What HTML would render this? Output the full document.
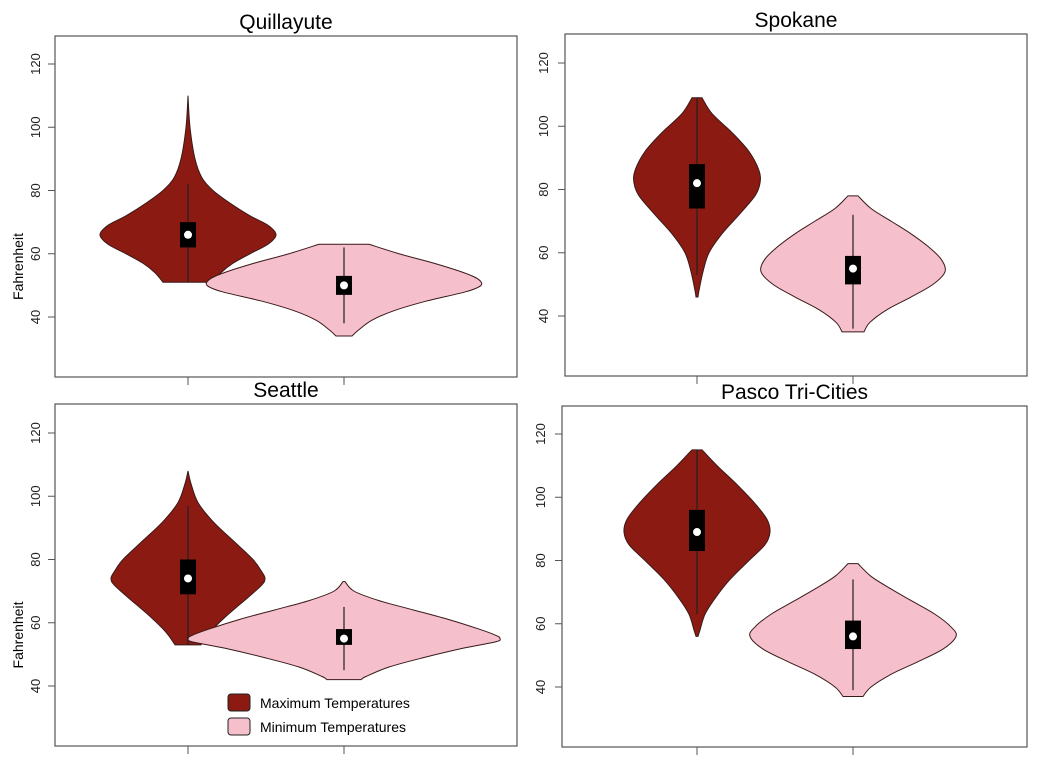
<!DOCTYPE html>
<html><head><meta charset="utf-8"><style>
html,body{margin:0;padding:0;background:#fff;}
svg{display:block;font-family:"Liberation Sans",sans-serif;}
.ttl{font-size:21px;text-anchor:middle;}
.tk{font-size:13px;fill:#222;text-anchor:middle;}
</style></head><body>
<svg id="chart" width="1050" height="770"></svg>
<script>
const panelNames = ["Quillayute","Spokane","Seattle","Pasco Tri-Cities"];
const yTicks = [40,60,80,100,120];
// densities (half-width) at temperature values
const maxTemps = [
 [110,100,90,84,80,76,72,69,66,63,60,57,54,51],
 [109,104,98,92,86,82,78,72,66,60,54,48,46],
 [108,104,98,92,86,80,76,74,72,68,62,57,53],
 [115,110,104,98,93,89,85,80,74,68,63,58,56]];
const maxDens = [
 [0,2,7,14,25,42,62,80,88,80,62,45,33,25],
 [5,15,35,52,62,63,58,42,25,12,6,2,1],
 [0,3,10,25,45,65,74,77,74,60,38,22,13],
 [5,20,40,58,70,73,68,52,33,18,8,3,1]];
const minTemps = [
 [63,60,57,54,52,50,48,45,42,39,36,34],
 [78,74,70,66,62,58,54,50,46,42,38,35],
 [73,70,67,64,61,58,56,55,54,52,49,46,43,42],
 [79,75,71,67,63,59,56,52,48,44,40,37]];
const minDens = [
 [25,55,90,120,134,137,122,82,50,28,15,8],
 [5,18,38,58,75,88,92,80,58,34,17,11],
 [1,10,35,70,105,135,152,156,152,120,80,45,22,17],
 [5,18,38,60,82,98,103,90,65,38,18,10]];
// [whiskerLow, q1, median, q3, whiskerHigh]
const maxStats = [[51,62,66,70,82],[53,74,82,88,109],[53,69,74,80,97],[63,83,89,96,115]];
const minStats = [[38,47,50,53,62],[36,50,55,59,72],[45,53,55,58,65],[39,52,56,61,74]];

const panels = [
 {x0:55,x1:517,y0:36,y1:377,y40:317,y120:64,c:[188,344],lab:40,fah:true},
 {x0:565,x1:1027,y0:34,y1:376,y40:316,y120:63,c:[697,853],lab:548,fah:false},
 {x0:55,x1:517,y0:404,y1:746,y40:686,y120:433,c:[188,344],lab:40,fah:true},
 {x0:562,x1:1027,y0:406,y1:747,y40:687,y120:434,c:[697,853],lab:545,fah:false}];
const svg = document.getElementById('chart');
const NS = "http://www.w3.org/2000/svg";
function mk(tag, attrs, parent){const e=document.createElementNS(NS,tag);for(const k in attrs)e.setAttribute(k,attrs[k]);(parent||svg).appendChild(e);return e;}
function spline(pts){
  let d="M"+pts[0][0]+","+pts[0][1];
  for(let i=0;i<pts.length-1;i++){
    const p0=pts[Math.max(0,i-1)],p1=pts[i],p2=pts[i+1],p3=pts[Math.min(pts.length-1,i+2)];
    const c1=[p1[0]+(p2[0]-p0[0])/6,p1[1]+(p2[1]-p0[1])/6];
    const c2=[p2[0]-(p3[0]-p1[0])/6,p2[1]-(p3[1]-p1[1])/6];
    d+="C"+c1[0]+","+c1[1]+" "+c2[0]+","+c2[1]+" "+p2[0]+","+p2[1];
  }
  return d;
}
function violin(g, cx, ys, ds, yS, fill, name){
  const right=ys.map((t,i)=>[cx+ds[i],yS(t)]);
  const left=ys.map((t,i)=>[cx-ds[i],yS(t)]).reverse();
  let d=spline(right)+" L"+left[0][0]+","+left[0][1]+spline(left).replace(/^M[^C]*/,"")+"Z";
  const p=mk('path',{d:d,fill:fill,stroke:'#3a1a1a','stroke-width':1},g);
  
  
}
function box(g,cx,s,yS,name){
  const w=mk('line',{x1:cx,x2:cx,y1:yS(s[0]),y2:yS(s[4]),stroke:'#222','stroke-width':1.2},g);
  
  
  const r=mk('rect',{x:cx-8,y:yS(s[3]),width:16,height:yS(s[1])-yS(s[3]),fill:'#000'},g);
  
  
  const c=mk('circle',{cx:cx,cy:yS(s[2]),r:4,fill:'#fff'},g);
  
  
}
panels.forEach((P,i)=>{
  const g=mk('g',{});
  
  
  const yS=v=>P.y40+(v-40)*(P.y120-P.y40)/80;
  const t=mk('text',{x:(P.x0+P.x1)/2,y:P.y0-7,class:'ttl'},g); t.textContent=panelNames[i];
  
  
  violin(g,P.c[0],maxTemps[i],maxDens[i],yS,'#8b1a12','violin-max');
  violin(g,P.c[1],minTemps[i],minDens[i],yS,'#f5bfcb','violin-min');
  box(g,P.c[0],maxStats[i],yS,'max');
  box(g,P.c[1],minStats[i],yS,'min');
  const fr=mk('rect',{x:P.x0,y:P.y0,width:P.x1-P.x0,height:P.y1-P.y0,fill:'none',stroke:'#555','stroke-width':1.2},g);
  
  
  P.c.forEach(cx=>{const l=mk('line',{x1:cx,x2:cx,y1:P.y1,y2:P.y1+8,stroke:'#555'},g);
    
    });
  yTicks.forEach(v=>{
    const l=mk('line',{x1:P.x0-7,x2:P.x0,y1:yS(v),y2:yS(v),stroke:'#555'},g);
    
    
    const tx=mk('text',{x:P.lab,y:yS(v),class:'tk',transform:'rotate(-90 '+P.lab+' '+yS(v)+')'},g);
    tx.textContent=v;
    
    
  });
  if(P.fah){
    const cy=(P.y0+P.y1)/2+60;
    const f=mk('text',{x:23,y:cy,'font-size':14,'text-anchor':'middle',transform:'rotate(-90 23 '+cy+')'},g);
    f.textContent='Fahrenheit';
    
    
  }
});
// legend
const lg=mk('g',{});


[['Maximum Temperatures','#8b1a12',694],['Minimum Temperatures','#f5bfcb',718]].forEach(e=>{
  const r=mk('rect',{x:228,y:e[2],width:22,height:17,rx:3,fill:e[1],stroke:'#222'},lg);
  
  
  const t=mk('text',{x:260,y:e[2]+14,'font-size':14},lg); t.textContent=e[0];
  
  
});
</script>
</body></html>
